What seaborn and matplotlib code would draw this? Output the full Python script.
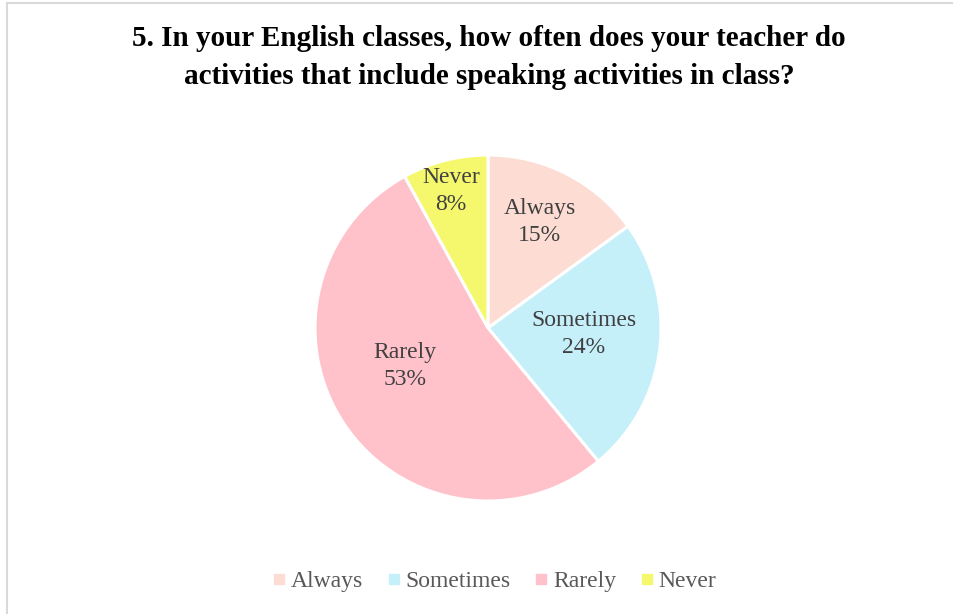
import matplotlib
matplotlib.use("Agg")
import matplotlib.pyplot as plt
from matplotlib.lines import Line2D
from matplotlib.patches import Rectangle
import seaborn as sns
import numpy as np

categories = ["Always", "Sometimes", "Rarely", "Never"]
shares = [15, 24, 53, 8]
colors = ["#FCDCD3", "#C5F0FA", "#FFC1CA", "#F5F86C"]
title = ("5. In your English classes, how often does your teacher do\n"
         "activities that include speaking activities in class?")

# in-slice label placement: fraction of radius and angular shift from slice middle
label_radius = [0.68, 0.556, 0.528, 0.82]
label_shift = [0.8, 3.6, -9.6, 0.7]

sns.set_theme(style="white")
plt.rcParams["font.family"] = ["Liberation Serif", "DejaVu Serif"]

W, H = 954, 614
fig = plt.figure(figsize=(W / 100, H / 100), dpi=100)
fig.patch.set_facecolor("white")

# light chart-area frame
fig.add_artist(Rectangle((7 / W, -0.05), 1.2, 1 - 3 / H + 0.05,
                         transform=fig.transFigure, fill=False,
                         edgecolor="#D9D9D9", linewidth=1.5))

cx, cy, r = 488, 328, 173
ax = fig.add_axes([(cx - r) / W, (H - cy - r) / H, 2 * r / W, 2 * r / H])
wedges, _ = ax.pie(shares, colors=colors, startangle=90, counterclock=False,
                   wedgeprops=dict(edgecolor="white", linewidth=2.2))
ax.set_xlim(-1, 1)
ax.set_ylim(-1, 1)
ax.set_aspect("equal")
ax.axis("off")

total = sum(shares)
start = 90.0
for cat, val, rad, shift in zip(categories, shares, label_radius, label_shift):
    span = 360.0 * val / total
    mid = np.deg2rad(start - span / 2 + shift)
    start -= span
    ax.text(rad * np.cos(mid), rad * np.sin(mid), f"{cat}\n{round(100 * val / total)}%",
            ha="center", va="center", fontsize=17, color="#404040", linespacing=1.38)

fig.text(489 / W, 1 - 57.5 / H, title, ha="center", va="center",
         fontsize=21, fontweight="bold", color="black", linespacing=1.56)

handles = [Line2D([], [], marker="s", linestyle="none", markersize=7,
                  markerfacecolor=c, markeredgecolor=c) for c in colors]
fig.legend(handles, categories, loc="center", bbox_to_anchor=(493 / W, 1 - 581 / H),
           ncol=4, frameon=False, fontsize=17, labelcolor="#595959",
           handletextpad=0.1, columnspacing=0.9, handlelength=0.8)

fig.savefig("out.png", dpi=100, facecolor="white")
